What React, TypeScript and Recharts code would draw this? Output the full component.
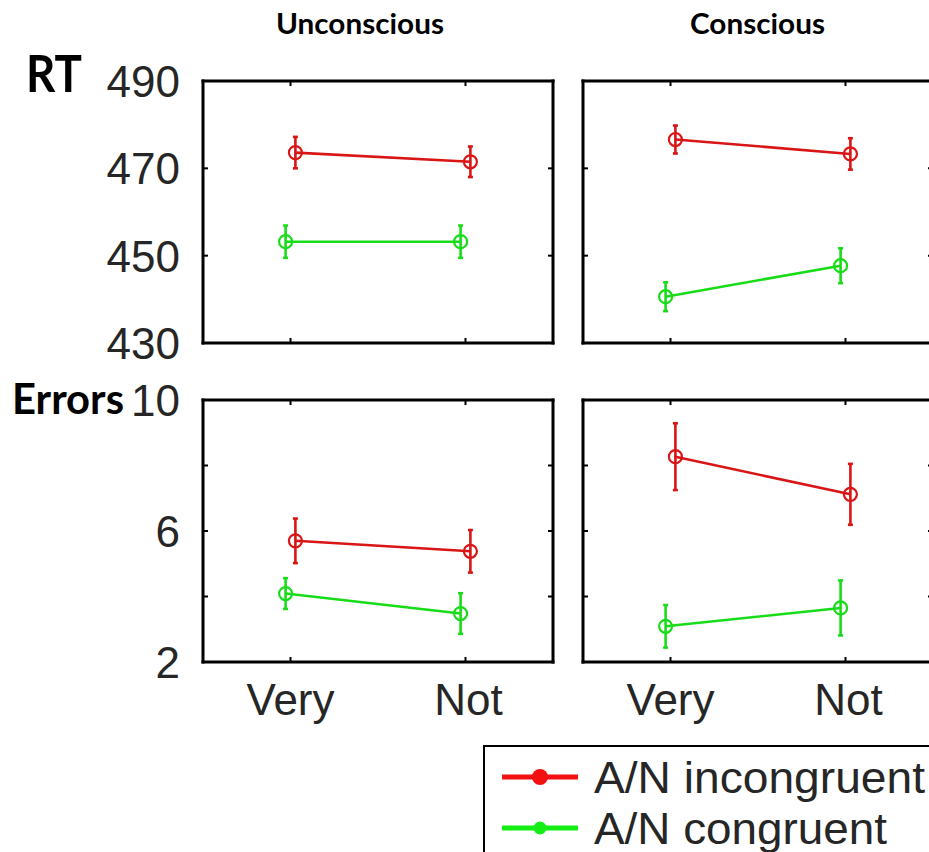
import React from 'react';
import { LineChart, Line, XAxis, YAxis, ErrorBar } from 'recharts';

// ---- data ----
const CATEGORIES = ['Very', 'Not'];
const SERIES = ['A/N incongruent', 'A/N congruent'];
const SERIES_COLORS = ['#d91515', '#19dc19'];
const LEGEND_COLORS = ['#f21010', '#14ee14'];
const COLUMN_TITLES = ['Unconscious', 'Conscious'];
const ROW_TITLES = ['RT', 'Errors'];

// reaction time (ms): means and error half-widths for [Very, Not]
const rtUnconsciousIncongruent = [473.6, 471.5];
const rtUnconsciousIncongruentErr = [3.6, 3.5];
const rtUnconsciousCongruent = [453.2, 453.2];
const rtUnconsciousCongruentErr = [3.7, 3.7];
const rtConsciousIncongruent = [476.6, 473.3];
const rtConsciousIncongruentErr = [3.2, 3.6];
const rtConsciousCongruent = [440.6, 447.7];
const rtConsciousCongruentErr = [3.3, 4.0];

// error rates (%): means and error half-widths for [Very, Not]
const errUnconsciousIncongruent = [5.7, 5.38];
const errUnconsciousIncongruentErr = [0.68, 0.65];
const errUnconsciousCongruent = [4.09, 3.48];
const errUnconsciousCongruentErr = [0.47, 0.62];
const errConsciousIncongruent = [8.27, 7.12];
const errConsciousIncongruentErr = [1.02, 0.93];
const errConsciousCongruent = [3.09, 3.65];
const errConsciousCongruentErr = [0.65, 0.84];

const RT_TICKS = [430, 450, 470, 490];
const RT_TICK_LABELS = ['430', '450', '470', '490'];
const ERROR_TICKS = [2, 4, 6, 8, 10];
const ERROR_TICK_LABELS = ['2', '', '6', '', '10'];

// horizontal offset (in category units) separating the two conditions
const DODGE = 0.028;

type Point = { x: number; y: number; e: number };
const makePoints = (means: number[], errs: number[], dodge: number): Point[] =>
  CATEGORIES.map((_, i) => ({ x: i + 1 + dodge, y: means[i], e: errs[i] }));

// ---- layout ----
const Y_AXIS_W = 120;
const TOP_PAD = 30;
const TOP_AXIS_H = 10;
const FRAME = { stroke: '#000', strokeWidth: 3, strokeLinecap: 'square' as const };
const TICK_FONT = '"Liberation Sans", Arial, sans-serif';
const TITLE_FONT = 'Lato, "Open Sans", sans-serif';
const TEXT_COLOR = '#262626';
const TICK_LEN = 5;
const AXIS_FONT_SIZE = 44;

type PanelProps = {
  left: number;
  top: number;
  plotW: number;
  plotH: number;
  domain: [number, number];
  ticks: number[];
  tickLabels: string[];
  showXLabels: boolean;
  series: Point[][];
};

const Panel = ({ left, top, plotW, plotH, domain, ticks, tickLabels, showXLabels, series }: PanelProps) => {
  const bottomH = showXLabels ? 80 : 30;
  const width = Y_AXIS_W + plotW + 10;
  const height = TOP_PAD + TOP_AXIS_H + plotH + bottomH;

  const leftTick = (p: any) => {
    const idx = ticks.indexOf(p.payload.value);
    return (
      <g>
        <line x1={p.x} x2={p.x + TICK_LEN} y1={p.y} y2={p.y} stroke="#000" strokeWidth={2} />
        <text
          x={p.x - 23}
          y={p.y}
          dy="0.36em"
          textAnchor="end"
          fontFamily={TICK_FONT}
          fontSize={AXIS_FONT_SIZE}
          fill={TEXT_COLOR}
        >
          {tickLabels[idx]}
        </text>
      </g>
    );
  };
  const rightTick = (p: any) => (
    <line x1={p.x} x2={p.x - TICK_LEN} y1={p.y} y2={p.y} stroke="#000" strokeWidth={2} />
  );
  const topTick = (p: any) => (
    <line x1={p.x} x2={p.x} y1={p.y} y2={p.y + TICK_LEN} stroke="#000" strokeWidth={2} />
  );
  const bottomTick = (p: any) => (
    <g>
      <line x1={p.x} x2={p.x} y1={p.y} y2={p.y - TICK_LEN} stroke="#000" strokeWidth={2} />
      {showXLabels && (
        <text
          x={p.x + (p.payload.value === 2 ? 3 : 0)}
          y={p.y + 53}
          textAnchor="middle"
          fontFamily={TICK_FONT}
          fontSize={AXIS_FONT_SIZE}
          fill={TEXT_COLOR}
        >
          {CATEGORIES[p.payload.value - 1]}
        </text>
      )}
    </g>
  );

  return (
    <div style={{ position: 'absolute', left: left - Y_AXIS_W, top: top - TOP_PAD - TOP_AXIS_H }}>
      <LineChart
        width={width}
        height={height}
        margin={{ top: TOP_PAD, right: 0, bottom: 0, left: 0 }}
        style={{ overflow: 'visible' }}
      >
        <XAxis
          xAxisId="bottom"
          dataKey="x"
          type="number"
          domain={[0.5, 2.5]}
          ticks={[1, 2]}
          allowDataOverflow
          orientation="bottom"
          height={bottomH}
          tickSize={0}
          tickMargin={0}
          tickLine={false}
          axisLine={FRAME}
          tick={bottomTick}
          interval={0}
        />
        <XAxis
          xAxisId="top"
          dataKey="x"
          type="number"
          domain={[0.5, 2.5]}
          ticks={[1, 2]}
          allowDataOverflow
          orientation="top"
          height={TOP_AXIS_H}
          tickSize={0}
          tickMargin={0}
          tickLine={false}
          axisLine={FRAME}
          tick={topTick}
          interval={0}
        />
        <YAxis
          yAxisId="left"
          type="number"
          domain={domain}
          ticks={ticks}
          allowDataOverflow
          orientation="left"
          width={Y_AXIS_W}
          tickSize={0}
          tickMargin={0}
          tickLine={false}
          axisLine={FRAME}
          tick={leftTick}
          interval={0}
        />
        <YAxis
          yAxisId="right"
          type="number"
          domain={domain}
          ticks={ticks}
          allowDataOverflow
          orientation="right"
          width={10}
          tickSize={0}
          tickMargin={0}
          tickLine={false}
          axisLine={FRAME}
          tick={rightTick}
          interval={0}
        />
        {series.map((pts, i) => (
          <Line
            key={SERIES[i]}
            name={SERIES[i]}
            data={pts}
            dataKey="y"
            xAxisId="bottom"
            yAxisId="left"
            stroke={SERIES_COLORS[i]}
            strokeWidth={2.6}
            dot={{ r: 6.5, stroke: SERIES_COLORS[i], strokeWidth: 2.2, fill: 'none' }}
            isAnimationActive={false}
          >
            <ErrorBar dataKey="e" direction="y" width={2.5} stroke={SERIES_COLORS[i]} strokeWidth={2.6} />
          </Line>
        ))}
      </LineChart>
    </div>
  );
};

const PANELS: PanelProps[] = [
  {
    left: 203, top: 81, plotW: 350, plotH: 262,
    domain: [430, 490], ticks: RT_TICKS, tickLabels: RT_TICK_LABELS, showXLabels: false,
    series: [
      makePoints(rtUnconsciousIncongruent, rtUnconsciousIncongruentErr, DODGE),
      makePoints(rtUnconsciousCongruent, rtUnconsciousCongruentErr, -DODGE),
    ],
  },
  {
    left: 583, top: 81, plotW: 350, plotH: 262,
    domain: [430, 490], ticks: RT_TICKS, tickLabels: ['', '', '', ''], showXLabels: false,
    series: [
      makePoints(rtConsciousIncongruent, rtConsciousIncongruentErr, DODGE),
      makePoints(rtConsciousCongruent, rtConsciousCongruentErr, -DODGE),
    ],
  },
  {
    left: 203, top: 400, plotW: 350, plotH: 262,
    domain: [2, 10], ticks: ERROR_TICKS, tickLabels: ERROR_TICK_LABELS, showXLabels: true,
    series: [
      makePoints(errUnconsciousIncongruent, errUnconsciousIncongruentErr, DODGE),
      makePoints(errUnconsciousCongruent, errUnconsciousCongruentErr, -DODGE),
    ],
  },
  {
    left: 583, top: 400, plotW: 350, plotH: 262,
    domain: [2, 10], ticks: ERROR_TICKS, tickLabels: ['', '', '', '', ''], showXLabels: true,
    series: [
      makePoints(errConsciousIncongruent, errConsciousIncongruentErr, DODGE),
      makePoints(errConsciousCongruent, errConsciousCongruentErr, -DODGE),
    ],
  },
];

const Annotations = () => (
  <svg width={929} height={852} style={{ position: 'absolute', left: 0, top: 0 }}>
    {/* column headings */}
    <text x={276} y={34} fontFamily={TITLE_FONT} fontWeight={700} fontSize={29} textLength={168} lengthAdjust="spacingAndGlyphs" fill="#000">
      {COLUMN_TITLES[0]}
    </text>
    <text x={690} y={34} fontFamily={TITLE_FONT} fontWeight={700} fontSize={29} textLength={135} lengthAdjust="spacingAndGlyphs" fill="#000">
      {COLUMN_TITLES[1]}
    </text>
    {/* row headings */}
    <text x={26} y={92} fontFamily={TITLE_FONT} fontWeight={700} fontSize={51} textLength={56} lengthAdjust="spacingAndGlyphs" fill="#000">
      {ROW_TITLES[0]}
    </text>
    <text x={12} y={414} fontFamily={TITLE_FONT} fontWeight={700} fontSize={42} textLength={112} lengthAdjust="spacingAndGlyphs" fill="#000">
      {ROW_TITLES[1]}
    </text>
    {/* legend */}
    <rect x={484} y={746} width={470} height={130} fill="#fff" stroke="#000" strokeWidth={2} />
    {SERIES.map((name, i) => {
      const cy = 777 + i * 51;
      return (
        <g key={name}>
          <line x1={502} x2={578} y1={cy} y2={cy} stroke={LEGEND_COLORS[i]} strokeWidth={5} />
          <circle cx={540} cy={cy} r={i === 0 ? 8 : 6.5} fill={LEGEND_COLORS[i]} />
          <text
            x={594}
            y={cy + 16}
            fontFamily={TICK_FONT}
            fontSize={44}
            textLength={i === 0 ? 331 : 293}
            lengthAdjust="spacingAndGlyphs"
            fill={TEXT_COLOR}
          >
            {name}
          </text>
        </g>
      );
    })}
  </svg>
);

export default function App() {
  return (
    <div
      style={{
        position: 'absolute',
        left: 0,
        top: 0,
        width: 929,
        height: 852,
        overflow: 'hidden',
        background: '#fff',
      }}
    >
      <Annotations />
      {PANELS.map((p, i) => (
        <Panel key={i} {...p} />
      ))}
    </div>
  );
}
